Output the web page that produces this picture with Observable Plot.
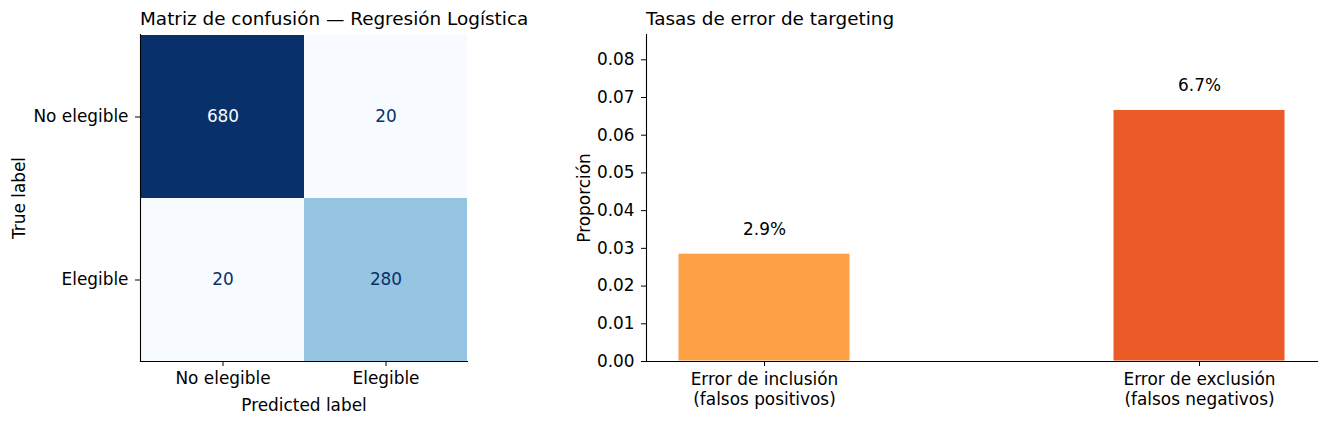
<!DOCTYPE html>
<html><head><meta charset="utf-8">
<script src="https://cdn.jsdelivr.net/npm/d3@7"></script>
<script src="https://cdn.jsdelivr.net/npm/@observablehq/plot@0.6"></script>
<style>
body{margin:0;background:#fff;font-family:"DejaVu Sans",sans-serif;}
#wrap{position:relative;width:1327px;height:425px;overflow:hidden;background:#fff}
.panel{position:absolute;top:0}
.title{position:absolute;font-size:18.4px;line-height:22px;top:8px;color:#000;white-space:nowrap;font-family:"DejaVu Sans",sans-serif}
</style></head><body>
<div id="wrap">
 <div class="panel" id="left" style="left:0"></div>
 <div class="panel" id="right" style="left:560px"></div>
 <div class="title" style="left:140px">Matriz de confusión — Regresión Logística</div>
 <div class="title" style="left:646px">Tasas de error de targeting</div>
</div>
<script>
// Confusion matrix data
const classLabels = ["No elegible", "Elegible"];
const trueLabels = ["No elegible", "No elegible", "Elegible", "Elegible"];
const predictedLabels = ["No elegible", "Elegible", "No elegible", "Elegible"];
const counts = [680, 20, 20, 280];

// Targeting error rates
const errorTypes = ["Error de inclusión\n(falsos positivos)", "Error de exclusión\n(falsos negativos)"];
const errorRates = [0.0286, 0.0667];
const errorLabels = ["2.9%", "6.7%"];
const yTicks = [0, 0.01, 0.02, 0.03, 0.04, 0.05, 0.06, 0.07, 0.08];
const barColors = ["#fd9f45", "#ec5b27"];

const cm = counts.map((c, i) => ({true: trueLabels[i], pred: predictedLabels[i], count: c}));
const errs = errorRates.map((r, i) => ({type: errorTypes[i], rate: r, label: errorLabels[i]}));

const FS = 16.9;
const baseStyle = {fontFamily: "DejaVu Sans", fontSize: FS + "px", color: "#000", background: "transparent", overflow: "visible"};

const left = Plot.plot({
  width: 540, height: 425,
  marginLeft: 140, marginRight: 73, marginTop: 34, marginBottom: 64,
  style: baseStyle,
  x: {type: "band", domain: classLabels, padding: 0},
  y: {type: "band", domain: classLabels, padding: 0},
  color: {type: "linear", scheme: "blues", domain: [20, 680]},
  marks: [
    Plot.cell(cm, {x: "pred", y: "true", fill: "count"}),
    Plot.text(cm, {x: "pred", y: "true", text: d => String(d.count), filter: d => d.count > 350, fill: "#f7fbff", fontSize: FS}),
    Plot.text(cm, {x: "pred", y: "true", text: d => String(d.count), filter: d => d.count <= 350, fill: "#08306b", fontSize: FS}),
    Plot.axisX({tickSize: 5, tickPadding: 5, label: "Predicted label", labelAnchor: "center", labelArrow: "none", labelOffset: 49}),
    Plot.axisY({tickSize: 5, tickPadding: 7, label: "True label", labelAnchor: "center", labelArrow: "none", labelOffset: 128}),
    Plot.frame({anchor: "left", stroke: "#000", strokeWidth: 1.1}),
    Plot.frame({anchor: "bottom", stroke: "#000", strokeWidth: 1.1})
  ]
});
document.getElementById("left").appendChild(left);

const right = Plot.plot({
  width: 767, height: 425,
  marginLeft: 86, marginRight: 10, marginTop: 34, marginBottom: 64,
  style: baseStyle,
  x: {type: "band", domain: errorTypes, paddingInner: 0.605, paddingOuter: 0.0736},
  y: {domain: [0, 0.0867]},
  color: {domain: errorTypes, range: barColors},
  marks: [
    Plot.barY(errs, {x: "type", y: "rate", fill: "type", stroke: "white", strokeWidth: 1}),
    Plot.text(errs, {x: "type", y: "rate", text: "label", dy: -19, lineAnchor: "bottom", fontSize: FS, fill: "#000"}),
    Plot.axisY({ticks: yTicks, tickFormat: d3.format(".2f"), tickSize: 5, tickPadding: 7, label: "Proporción", labelAnchor: "center", labelArrow: "none", labelOffset: 69}),
    Plot.axisX({tickSize: 5, tickPadding: 5, lineHeight: 1.15, label: null}),
    Plot.frame({anchor: "left", stroke: "#000", strokeWidth: 1.1}),
    Plot.frame({anchor: "bottom", stroke: "#000", strokeWidth: 1.1})
  ]
});
document.getElementById("right").appendChild(right);
</script>
</body></html>
